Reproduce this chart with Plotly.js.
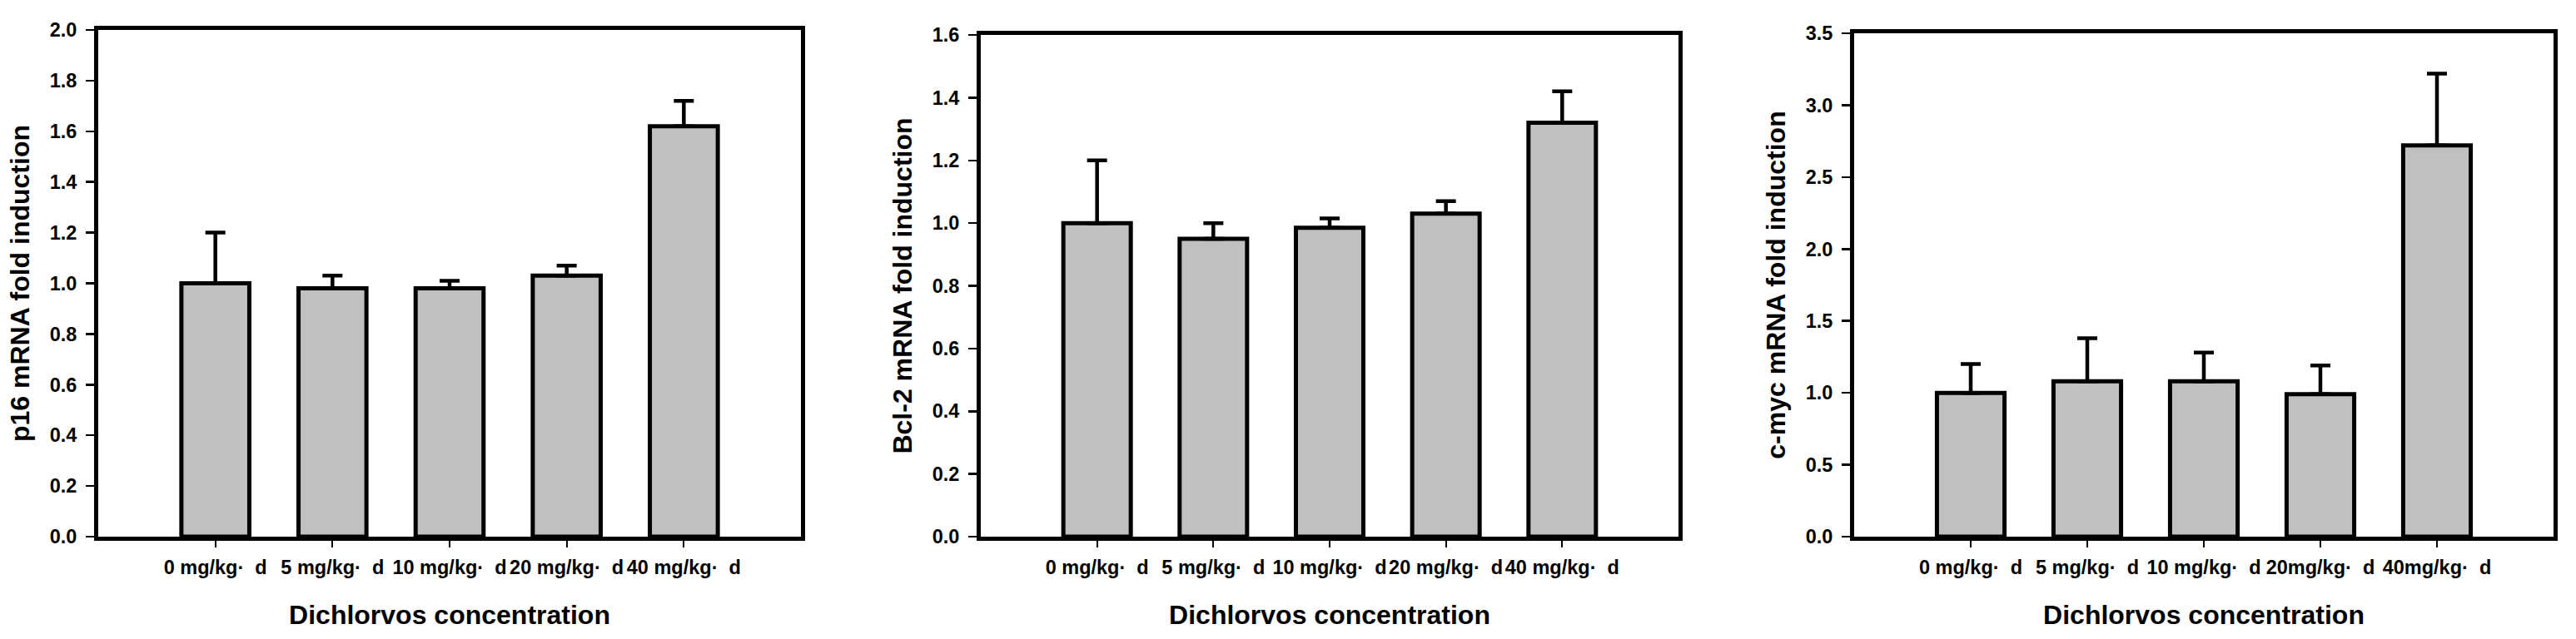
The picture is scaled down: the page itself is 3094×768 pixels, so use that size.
<!DOCTYPE html>
<html>
<head>
<meta charset="utf-8">
<script src="https://cdn.plot.ly/plotly-3.0.1.min.js"></script>
<style>html,body{margin:0;padding:0;background:#fff;}#chart{width:3094px;height:768px;}</style>
</head>
<body>
<div id="chart"></div>
<script>
// ---- data ----
const catsA = ["0 mg/kg·\u00A0\u00A0d", "5 mg/kg·\u00A0\u00A0d", "10 mg/kg·\u00A0\u00A0d", "20 mg/kg·\u00A0\u00A0d", "40 mg/kg·\u00A0\u00A0d"];
const catsC = ["0 mg/kg·\u00A0\u00A0d", "5 mg/kg·\u00A0\u00A0d", "10 mg/kg·\u00A0\u00A0d", "20mg/kg·\u00A0\u00A0d", "40mg/kg·\u00A0\u00A0d"];

const p16Values = [1.00, 0.98, 0.98, 1.03, 1.62];
const p16Errors = [0.20, 0.05, 0.03, 0.04, 0.10];

const bcl2Values = [1.00, 0.95, 0.985, 1.03, 1.32];
const bcl2Errors = [0.20, 0.05, 0.03, 0.04, 0.10];

const cmycValues = [1.00, 1.08, 1.08, 0.99, 2.72];
const cmycErrors = [0.20, 0.30, 0.20, 0.20, 0.50];

const yTitles = ["p16 mRNA fold induction", "Bcl-2 mRNA fold induction", "c-myc mRNA fold induction"];
const xTitle = "Dichlorvos concentration";
const yRanges = [[0, 2.0], [0, 1.6], [0, 3.5]];
const yDticks = [0.2, 0.2, 0.5];

// ---- styling ----
const W = 3094, H = 768;
const FONT = "Liberation Sans, Arial, Helvetica, sans-serif";
const zeros = [0, 0, 0, 0, 0];

function barTrace(cats, vals, errs, xa, ya) {
  return {
    type: "bar",
    x: cats,
    y: vals,
    xaxis: xa,
    yaxis: ya,
    width: 0.58,
    marker: { color: "#c0c0c0", line: { color: "#000", width: 5 } },
    error_y: {
      type: "data", symmetric: false, array: errs, arrayminus: zeros,
      color: "#000", thickness: 4.5, width: 12
    },
    hoverinfo: "x+y",
    showlegend: false
  };
}

// plot-area pixel boxes [left, right, top, bottom]
const boxes = [
  [118, 962, 36, 645],
  [1178, 2016, 42, 645],
  [2227, 3067, 40, 645]
];

function xAxis(i) {
  const b = boxes[i];
  return {
    domain: [b[0] / W, b[1] / W],
    anchor: i === 0 ? "y" : "y" + (i + 1),
    type: "category",
    range: [-1, 5],
    showline: true, mirror: true, linecolor: "#000", linewidth: 5,
    ticks: "outside", ticklen: 8, tickwidth: 2, tickcolor: "#000",
    tickangle: 0,
    ticklabelstandoff: 4,
    tickfont: { family: FONT, size: 23.5, color: "#000", weight: "bold" },
    showgrid: false, zeroline: false, fixedrange: true,
    title: { text: xTitle, font: { family: FONT, size: 32, color: "#000", weight: "bold" }, standoff: 35 }
  };
}

function yAxis(i) {
  const b = boxes[i];
  return {
    domain: [(H - b[3]) / H, (H - b[2]) / H],
    anchor: i === 0 ? "x" : "x" + (i + 1),
    range: yRanges[i], dtick: yDticks[i], tick0: 0, tickformat: ".1f",
    showline: true, mirror: true, linecolor: "#000", linewidth: 5,
    ticks: "outside", ticklen: 10, tickwidth: 2.5, tickcolor: "#000",
    ticklabelstandoff: 6,
    tickfont: { family: FONT, size: 23.5, color: "#000", weight: "bold" },
    showgrid: false, zeroline: false, fixedrange: true,
    title: { text: yTitles[i], font: { family: FONT, size: 32, color: "#000", weight: "bold" }, standoff: 16 }
  };
}

const data = [
  barTrace(catsA, p16Values, p16Errors, "x", "y"),
  barTrace(catsA, bcl2Values, bcl2Errors, "x2", "y2"),
  barTrace(catsC, cmycValues, cmycErrors, "x3", "y3")
];

const layout = {
  width: W, height: H,
  margin: { l: 0, r: 0, t: 0, b: 0, pad: 0 },
  paper_bgcolor: "#fff", plot_bgcolor: "#fff",
  font: { family: FONT, color: "#000" },
  bargap: 0.42,
  xaxis: xAxis(0), yaxis: yAxis(0),
  xaxis2: xAxis(1), yaxis2: yAxis(1),
  xaxis3: xAxis(2), yaxis3: yAxis(2)
};

Plotly.newPlot("chart", data, layout, { staticPlot: true, displayModeBar: false });
</script>
</body>
</html>
